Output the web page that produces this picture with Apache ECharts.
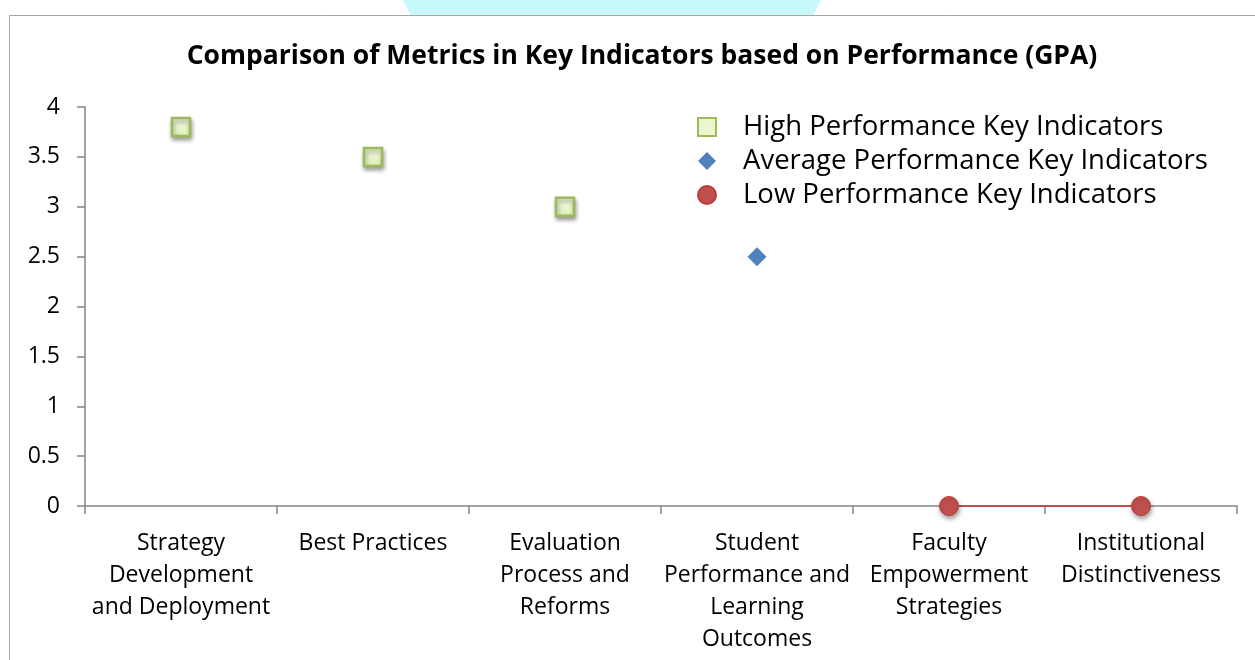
<!DOCTYPE html>
<html>
<head>
<meta charset="utf-8">
<script src="https://cdn.jsdelivr.net/npm/echarts@6/dist/echarts.min.js"></script>
<style>html,body{margin:0;padding:0;background:#fff}#c{width:1255px;height:660px}</style>
</head>
<body>
<div id="c"></div>
<script>
const categories = [
  'Strategy\nDevelopment\nand Deployment',
  'Best Practices',
  'Evaluation\nProcess and\nReforms',
  'Student\nPerformance and\nLearning\nOutcomes',
  'Faculty\nEmpowerment\nStrategies',
  'Institutional\nDistinctiveness'
];
const highValues = [3.8, 3.5, 3.0, null, null, null];
const averageValues = [null, null, null, 2.5, null, null];
const lowValues = [null, null, null, null, 0, 0];
const yTicks = [0, 0.5, 1, 1.5, 2, 2.5, 3, 3.5, 4];

const FONT = 'Open Sans';
const axisColor = '#868686';
const chart = echarts.init(document.getElementById('c'));
const shadow = {shadowBlur: 4, shadowColor: 'rgba(0,0,0,0.35)', shadowOffsetY: 3, shadowOffsetX: 1};

chart.setOption({
  animation: false,
  textStyle: {fontFamily: FONT},
  title: {
    text: 'Comparison of Metrics in Key Indicators based on Performance (GPA)',
    left: 637, textAlign: 'center', top: 38,
    textStyle: {fontFamily: FONT, fontWeight: 'bold', fontSize: 26.5, color: '#000'}
  },
  graphic: [
    {type: 'circle', z: -10, shape: {cx: 612, cy: -100, r: 232}, style: {fill: '#c9f8fb'}},
    {type: 'rect', z: -9, shape: {x: 9.5, y: 15.5, width: 1300, height: 700}, style: {fill: '#fff', stroke: '#a6a6a6', lineWidth: 1}}
  ],
  legend: {
    orient: 'vertical', left: 692, top: 108, itemGap: 6, itemWidth: 18, itemHeight: 18,
    textStyle: {fontFamily: FONT, fontSize: 27.5, lineHeight: 28, color: '#000', padding: [0, 0, 0, 22]},
    data: [
      {name: 'High Performance Key Indicators', icon: 'rect', itemStyle: {color: '#ebf5d0', borderColor: '#9bbb59', borderWidth: 2}},
      {name: 'Average Performance Key Indicators', icon: 'diamond', itemStyle: {color: '#4f81bd'}},
      {name: 'Low Performance Key Indicators', icon: 'circle', itemStyle: {color: '#c0504d'}}
    ]
  },
  grid: {left: 85, right: 18, top: 107, bottom: 154},
  xAxis: {
    type: 'category', data: categories, boundaryGap: true,
    axisLine: {lineStyle: {color: axisColor, width: 1.5}},
    axisTick: {show: true, alignWithLabel: false, length: 8, lineStyle: {color: axisColor, width: 1.5}},
    axisLabel: {interval: 0, color: '#000', fontFamily: FONT, fontSize: 23, lineHeight: 32, margin: 21, align: 'center'},
    splitLine: {show: false}
  },
  yAxis: {
    type: 'value', min: 0, max: 4, interval: 0.5,
    axisLine: {show: true, lineStyle: {color: axisColor, width: 1.5}},
    axisTick: {show: true, length: 8, lineStyle: {color: axisColor, width: 1.5}},
    axisLabel: {color: '#000', fontFamily: FONT, fontSize: 23, margin: 25, formatter: v => String(v)},
    splitLine: {show: false}
  },
  series: [
    {
      name: 'High Performance Key Indicators', type: 'line', data: highValues,
      lineStyle: {width: 0, opacity: 0}, symbol: 'rect', symbolSize: 18,
      itemStyle: Object.assign({color: {type: 'linear', x: 0, y: 0, x2: 0, y2: 1, colorStops: [{offset: 0, color: '#f4fae3'}, {offset: 1, color: '#dff0b5'}]}, borderColor: '#9bbb59', borderWidth: 2.5}, shadow)
    },
    {
      name: 'Average Performance Key Indicators', type: 'line', data: averageValues,
      lineStyle: {width: 0, opacity: 0}, symbol: 'diamond', symbolSize: 19,
      itemStyle: {color: '#4f81bd', borderColor: '#4a7ebb', borderWidth: 0}
    },
    {
      name: 'Low Performance Key Indicators', type: 'line', data: lowValues,
      lineStyle: {width: 2, color: '#c0504d'}, symbol: 'circle', symbolSize: 19,
      itemStyle: Object.assign({color: '#c0504d', borderColor: '#b83d3a', borderWidth: 1}, shadow)
    }
  ]
});
</script>
</body>
</html>
